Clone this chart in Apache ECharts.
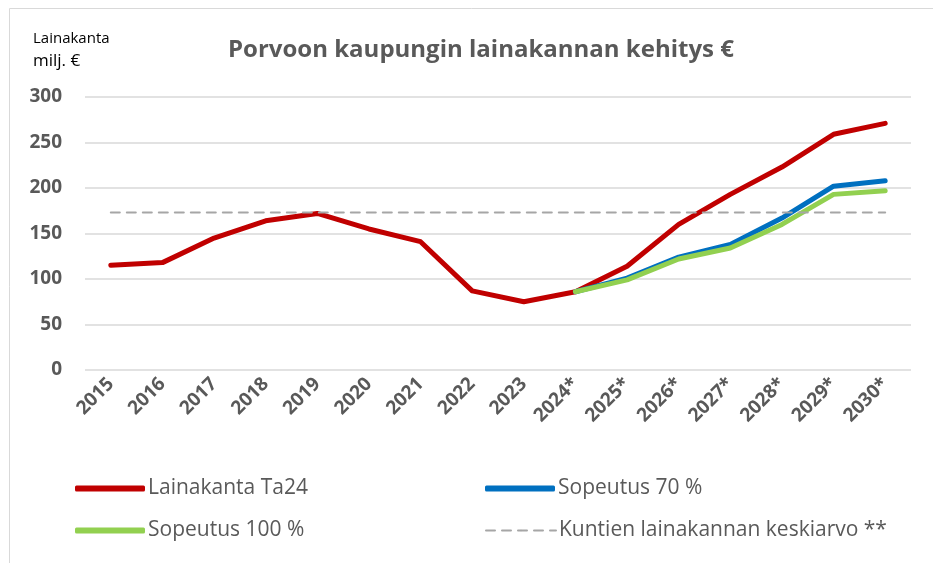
<!DOCTYPE html>
<html>
<head>
    <meta http-equiv="Content-Type" content="text/html; charset=utf-8">
    <title>Porvoon kaupungin lainakannan kehitys</title>
    <style>
        html, body { margin: 0; padding: 0; background: #fff; }
        #chart_main { width: 933px; height: 563px; }
    </style>
</head>
<body>
    <div id="chart_main"></div>
    <script src="https://cdn.jsdelivr.net/npm/echarts@6/dist/echarts.min.js"></script>
    <script>
        // data
        var years = ['2015', '2016', '2017', '2018', '2019', '2020', '2021', '2022', '2023',
            '2024*', '2025*', '2026*', '2027*', '2028*', '2029*', '2030*'];
        var lainakanta = [115, 118, 145, 164, 172, 155, 141, 87, 75, 86, 114, 160, 193, 223, 259, 271];
        var sopeutus70 = ['-', '-', '-', '-', '-', '-', '-', '-', '-', 86, 101, 124, 138, 167, 202, 208];
        var sopeutus100 = ['-', '-', '-', '-', '-', '-', '-', '-', '-', 86, 99, 122, 134, 160, 193, 197];
        var keskiarvo = [173, 173, 173, 173, 173, 173, 173, 173, 173, 173, 173, 173, 173, 173, 173, 173];
        var yTicks = [0, 50, 100, 150, 200, 250, 300];

        var FONT = '"Open Sans", sans-serif';
        var GREY = '#595959';
        var dashedName = 'Kuntien lainakannan keskiarvo **';

        var myChart = echarts.init(document.getElementById('chart_main'));

        function lineSeries(name, data, color, dashed) {
            return {
                name: name,
                type: 'line',
                data: data,
                symbol: 'none',
                lineStyle: {
                    color: color,
                    width: dashed ? 2 : 5,
                    type: dashed ? [9, 7] : 'solid',
                    cap: 'round',
                    join: 'round'
                },
                itemStyle: { color: color },
                emphasis: { disabled: true }
            };
        }

        // one legend box per item, laid out 2 x 2 like the original
        function legendBox(name, left, top) {
            return {
                data: [name],
                left: left,
                top: top,
                icon: name == dashedName ? undefined : 'roundRect',
                itemWidth: 70,
                itemHeight: name == dashedName ? 2 : 6,
                itemGap: 0,
                textStyle: { fontFamily: FONT, fontSize: 21, color: GREY, padding: [0, 0, 0, -2] },
                selectedMode: false
            };
        }

        var option = {
            animation: false,
            textStyle: { fontFamily: FONT },
            title: {
                text: 'Porvoon kaupungin lainakannan kehitys €',
                left: 476,
                textAlign: 'center',
                top: 33,
                textStyle: { fontFamily: FONT, fontSize: 24, fontWeight: 'bold', color: GREY }
            },
            grid: { left: 85, right: 22, top: 97, bottom: 193 },
            legend: [
                legendBox('Lainakanta Ta24', 70, 473),
                legendBox('Sopeutus 70 %', 480, 473),
                legendBox('Sopeutus 100 %', 70, 515),
                legendBox(dashedName, 480, 515)
            ],
            xAxis: {
                type: 'category',
                data: years,
                boundaryGap: true,
                axisLine: { show: false },
                axisTick: { show: false },
                axisLabel: {
                    rotate: 45,
                    margin: 11,
                    interval: 0,
                    color: GREY,
                    fontFamily: FONT,
                    fontSize: 19,
                    fontWeight: 'bold'
                }
            },
            yAxis: {
                type: 'value',
                min: 0,
                max: 300,
                interval: 50,
                axisLine: { show: false },
                axisTick: { show: false },
                axisLabel: {
                    margin: 23,
                    color: GREY,
                    fontFamily: FONT,
                    fontSize: 19,
                    fontWeight: 'bold',
                    formatter: function (v) { return yTicks.indexOf(v) >= 0 ? String(v) : ''; }
                },
                splitLine: { lineStyle: { color: '#d9d9d9', width: 1.5 } }
            },
            graphic: [
                {
                    type: 'rect',
                    shape: { x: 9.5, y: 8.5, width: 1000, height: 1000 },
                    style: { fill: 'none', stroke: '#d9d9d9', lineWidth: 1 },
                    silent: true
                },
                {
                    type: 'text', left: 33, top: 31,
                    style: { text: 'Lainakanta', fontFamily: FONT, fontSize: 15, fill: '#000' }
                },
                {
                    type: 'text', left: 33, top: 53,
                    style: { text: 'milj. €', fontFamily: FONT, fontSize: 17, fill: '#000' }
                }
            ],
            series: [
                lineSeries('Lainakanta Ta24', lainakanta, '#c00000', false),
                lineSeries('Sopeutus 70 %', sopeutus70, '#0070c0', false),
                lineSeries('Sopeutus 100 %', sopeutus100, '#92d050', false),
                lineSeries(dashedName, keskiarvo, '#a6a6a6', true)
            ]
        };

        myChart.setOption(option);
    </script>
</body>
</html>
